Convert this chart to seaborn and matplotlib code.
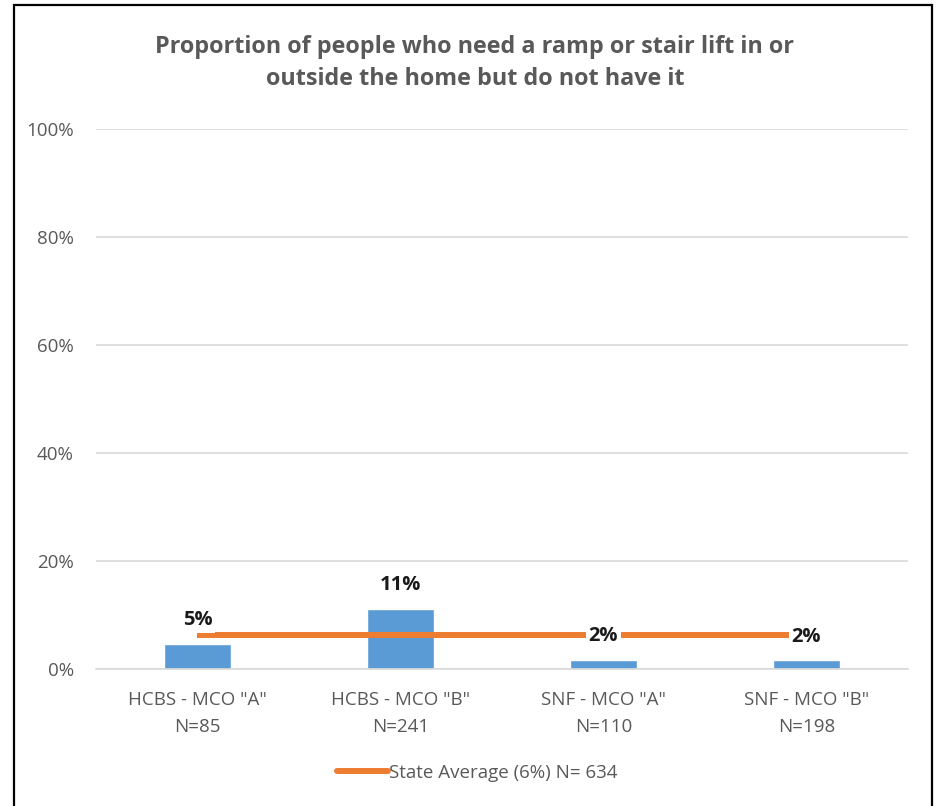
import matplotlib
matplotlib.use("Agg")
import matplotlib.pyplot as plt
import seaborn as sns
import pandas as pd
from matplotlib.patches import Rectangle
from matplotlib.lines import Line2D

categories = ['HCBS - MCO "A"\nN=85', 'HCBS - MCO "B"\nN=241', 'SNF - MCO "A"\nN=110', 'SNF - MCO "B"\nN=198']
values = [4.7, 11.1, 1.7, 1.6]
state_avg = [6.3, 6.3, 6.3, 6.3]
legend_label = "State Average (6%) N= 634"
title = "Proportion of people who need a ramp or stair lift in or\noutside the home but do not have it"
yticks = [0, 20, 40, 60, 80, 100]

df = pd.DataFrame({"cat": categories, "val": values, "avg": state_avg})

sns.set_theme(style="white")
plt.rcParams["font.family"] = ["Open Sans", "DejaVu Sans"]

fig = plt.figure(figsize=(9.37, 8.06), dpi=100)
ax = fig.add_axes([96/937, 1-669/806, (908-96)/937, (669-129)/806])

sns.barplot(data=df, x="cat", y="val", color="#5B9BD5", width=0.33, saturation=1, ax=ax, zorder=2)
ax.plot(range(len(categories)), df["avg"], color="#ED7D31", lw=4.3, zorder=3, solid_capstyle="butt")

for i, v in enumerate(values):
    ax.annotate(f"{v:.0f}%", xy=(i, v), xytext=(0, 17), textcoords="offset points",
                ha="center", va="center", fontsize=14.5, fontweight="bold", color="#1a1a1a",
                bbox=dict(boxstyle="square,pad=0.15", fc="white", ec="none"), zorder=4)

ax.set_xlim(-0.5, len(categories)-0.5)
ax.set_ylim(0, 100)
ax.set_yticks(yticks)
ax.set_yticklabels([f"{t}%" for t in yticks])
ax.yaxis.grid(True, color="#D9D9D9", lw=1.2, zorder=0)
ax.set_axisbelow(True)
ax.tick_params(axis="both", length=0, labelcolor="#595959")
ax.tick_params(axis="y", pad=16, labelsize=13.5)
ax.tick_params(axis="x", pad=16, labelsize=13.5)
for lbl in ax.get_xticklabels():
    lbl.set_linespacing(1.6)
ax.set_xlabel("")
ax.set_ylabel("")
for s in ["left", "right", "top"]:
    ax.spines[s].set_visible(False)
ax.spines["bottom"].set_color("#D9D9D9")
ax.spines["bottom"].set_linewidth(1.2)

fig.text(475/937, 1-63/806, title, ha="center", va="center", fontsize=16.8, fontweight="bold",
         color="#595959", linespacing=1.42)

handle = Line2D([], [], color="#ED7D31", lw=4.3)
fig.legend([handle], [legend_label], loc="center", bbox_to_anchor=(477/937, 1-773/806),
           frameon=False, fontsize=13.5, labelcolor="#595959", handlelength=2.7, handletextpad=0.05)

fig.patches.append(Rectangle((14/937, -0.01), (932-14)/937, 1.01-5/806, transform=fig.transFigure,
                             fill=False, ec="black", lw=1.6))

fig.savefig("out.png", dpi=100, facecolor="white")
